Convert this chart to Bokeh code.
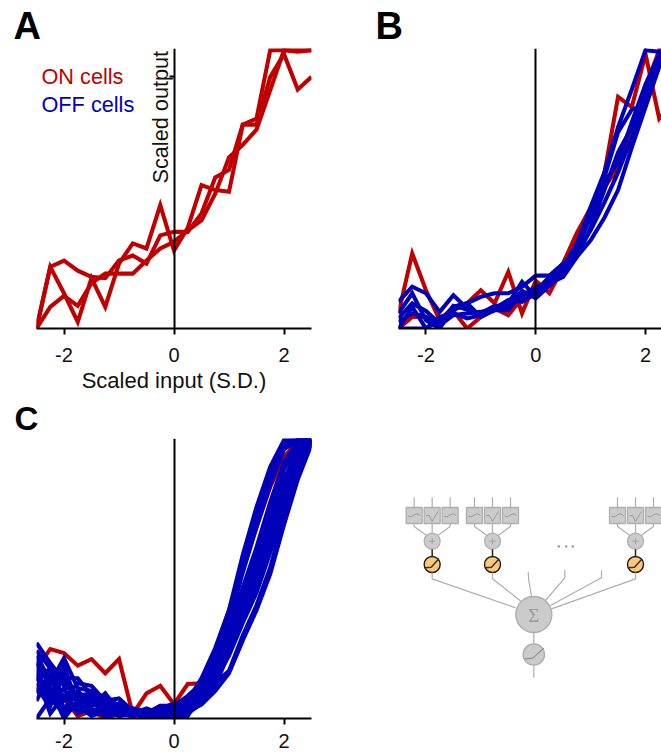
from bokeh.plotting import figure
from bokeh.layouts import row, column
from bokeh.models import FixedTicker, LinearAxis, Label, Title
from bokeh.embed import file_html
from bokeh.resources import INLINE
from bokeh.core.properties import value

# ---------- data ----------
xs = [-2.5,-2.25,-2,-1.75,-1.5,-1.25,-1,-.75,-.5,-.25,0,.25,.5,.75,1,1.25,1.5,1.75,2,2.25,2.5]
x_ticks = [-2, 0, 2]
x_tick_labels = {-2: "-2", 0: "0", 2: "2"}

a_on = [
 [0,.245,.14,.026,.20,.086,.258,.338,.318,.49,.31,.40,.57,.55,.543,.81,.834,1.106,1.106,1.10,1.106],
 [0,.245,.27,.23,.205,.20,.27,.29,.258,.37,.384,.384,.457,.60,.63,.81,.81,1.0,1.09,.95,1.0],
 [0,.086,.13,.09,.18,.218,.218,.218,.27,.318,.344,.39,.43,.536,.68,.73,.79,.947,1.106,1.106,1.106],
]

b_on = [
 [.06,.298,.152,.033,.086,.10,.152,.10,.225,.06,.19,.14,.245,.35,.457,.616,.92,.88,1.09,.834,.90],
 [0,.046,.046,.007,.07,0,.046,.08,.053,.12,.15,.19,.26,.38,.48,.56,.64,.80,.96,1.106,1.106],
]
b_off = [
 [.106,.166,.14,.066,.132,.08,.053,.073,.10,.185,.126,.18,.245,.338,.483,.62,.80,.95,1.106,1.10,1.106],
 [.06,.14,.033,0,.086,.10,.126,.14,.14,.166,.21,.21,.258,.31,.457,.60,.78,.87,.89,1.08,1.106],
 [.026,.06,.046,.013,.053,.06,.066,.08,.113,.126,.166,.18,.205,.285,.35,.44,.55,.72,.88,1.04,1.106],
 [0,0,0,.046,.06,.04,.053,.073,.113,.106,.14,.19,.218,.30,.39,.50,.62,.76,.90,1.05,1.106],
 [0,.086,0,.033,.073,.10,.046,.073,.073,.14,.15,.205,.23,.285,.40,.55,.70,.80,.93,1.07,1.106],
 [.04,.10,.07,.02,.09,.075,.06,.09,.09,.15,.12,.17,.22,.32,.44,.58,.66,.82,.97,1.09,1.106],
]

c_on = [
 [.20,.276,.26,.21,.236,.18,.236,.017,.10,.13,.057,.137,.14,.27,.43,.60,.76,.92,1.04,1.10,1.10],
 [.13,.06,.08,.01,.03,.0,.02,.01,.02,.03,.03,.06,.11,.19,.30,.44,.63,.76,.87,1.02,1.10],
]
c_off = [
 [.27,.20,.13,.10,.08,.06,.04,.02,.03,.04,.06,.07,.16,.28,.43,.65,.84,1.0,1.106,1.106,1.106],
 [.22,.14,.24,.12,.11,.07,.08,.03,.02,.05,.05,.09,.14,.26,.41,.62,.80,.97,1.09,1.106,1.106],
 [.18,.10,.16,.16,.09,.09,.05,.04,.03,.03,.04,.07,.13,.24,.38,.58,.76,.93,1.07,1.106,1.106],
 [.15,.20,.08,.14,.13,.07,.05,.03,.02,.02,.03,.05,.12,.22,.35,.52,.68,.86,1.02,1.10,1.106],
 [.12,.05,.18,.08,.05,.10,.03,.02,.04,.02,.03,.05,.11,.20,.33,.50,.64,.82,.99,1.09,1.106],
 [.23,.12,0,.07,.06,.04,.03,.04,.01,.03,.02,.04,.10,.19,.31,.47,.60,.78,.95,1.07,1.106],
 [.10,.16,.04,.10,.03,.05,.02,.01,.03,.01,.02,.03,.09,.17,.29,.43,.56,.74,.91,1.05,1.106],
 [.17,.02,.09,.03,.07,.02,.04,.02,.01,.02,.01,.03,.08,.16,.27,.40,.52,.70,.87,1.03,1.10],
 [0,.08,.02,.05,.01,.03,.01,.03,.01,.01,.01,.02,.07,.15,.25,.38,.50,.66,.83,1.0,1.09],
 [.20,.06,.12,.02,.04,.01,.02,.01,.02,.01,.02,.03,.055,.11,.18,.31,.43,.575,.77,.95,1.09],
 [.25,.15,.07,.11,.05,.08,.03,.03,.02,.04,.03,.04,.07,.14,.19,.33,.45,.60,.80,.97,1.10],
 [.14,.09,.21,.05,.09,.02,.06,.02,.03,.02,.02,.02,.06,.13,.26,.41,.54,.72,.89,1.04,1.10],
 [.07,.18,.03,.06,.02,.06,.01,.02,.0,.02,.0,.01,.10,.18,.30,.45,.58,.76,.93,1.06,1.106],
 [.30,.22,.15,.09,.10,.04,.05,.03,.02,.05,.04,.06,.15,.27,.42,.63,.82,.98,1.10,1.106,1.106],
]

legend_labels = ["ON cells", "OFF cells"]
x_title = "Scaled input (S.D.)"
y_title = "Scaled output"

# schematic (units in a 798 x 600 drawing space)
unit_cx = [110, 291, 720]
filter_dx = [-54, 0, 54]
filter_shape_u = [-18, -9, 0, 9, 18]
filter_side_v = [2, 4, -2, -5, 0]
filter_mid_v = [0, 0, 18, 2, -12]
side_inputs = [([398, 400, 408], [245, 270, 318]),
               ([508, 508, 450], [238, 262, 330]),
               ([618, 618, 465], [240, 262, 345])]
dots_x = [490, 512, 532]

RED, BLUE = "#c00000", "#0000b8"
FONT = "Liberation Sans"
PXU, PYU = 55.0, 755.0 / 3
GREY_F, GREY_L = "#cbcbcb", "#aeaeae"


def panel(w, h, left, right, top, bottom, xr, standoff, xtitle=None):
    p = figure(width=w, height=h, min_border_left=left, min_border_right=right,
               min_border_top=top, min_border_bottom=bottom,
               x_range=xr, y_range=(0, 1.1126), x_axis_location="below",
               y_axis_location=None, output_backend="svg", toolbar_location=None,
               background_fill_color="white", border_fill_color="white",
               outline_line_color=None)
    p.grid.visible = False
    ax = p.xaxis[0]
    ax.ticker = FixedTicker(ticks=x_ticks)
    ax.major_label_overrides = x_tick_labels
    ax.axis_line_width = 2
    ax.major_tick_line_width = 2
    ax.major_tick_out = 6
    ax.major_tick_in = 0
    ax.minor_tick_line_color = None
    ax.major_label_text_font = FONT
    ax.major_label_text_font_size = "20px"
    ax.major_label_text_color = "#111111"
    ax.major_label_standoff = standoff
    if xtitle:
        ax.axis_label = xtitle
        ax.axis_label_text_font = FONT
        ax.axis_label_text_font_size = "22px"
        ax.axis_label_text_font_style = "normal"
        ax.axis_label_text_color = "#111111"
        ax.axis_label_standoff = 3
    return p


def add_vline(p, ticks):
    yax = LinearAxis(fixed_location=0, ticker=FixedTicker(ticks=ticks))
    yax.axis_line_width = 2
    yax.major_tick_line_width = 2
    yax.major_tick_out = 5
    yax.major_tick_in = 0
    yax.minor_tick_line_color = None
    yax.major_label_text_font_size = "0px"
    yax.major_label_text_color = None
    p.add_layout(yax, "left")


def draw(p, series, color):
    for s in series:
        p.line(xs, s, line_color=color, line_width=4.1, line_join="miter")


def letter(p, t, offset, size="38px", standoff=4):
    p.add_layout(Title(text=t, align="left", offset=offset, standoff=standoff, text_font=FONT,
                       text_font_size=size, text_font_style="bold", text_color="black"),
                 "above")


# Panel A
a = panel(370, 396, 36, 59, 48, 68, (-2.5, 2.5), 13, x_title)
draw(a, a_on, RED)
add_vline(a, [1])
letter(a, "A", -23)
for t, c, py in [(legend_labels[0], RED, 76), (legend_labels[1], BLUE, 104)]:
    a.add_layout(Label(x=(41 - 173.5) / PXU, y=(328 - py) / PYU, text=t, text_font=FONT,
                       text_font_size="21.7px", text_color=c, text_align="left",
                       text_baseline="alphabetic"))
a.add_layout(Label(x=(160 - 173.5) / PXU, y=(328 - 183) / PYU, text=y_title, text_font=FONT,
                   text_font_size="21.7px", text_color="#111111", angle=90, angle_units="deg",
                   text_align="left", text_baseline="alphabetic"))

# Panel B
bxr = (-2.5, (661 - 535) / PXU)
b = panel(291, 396, 28, 0, 48, 68, bxr, 13)
draw(b, b_on, RED)
draw(b, b_off, BLUE)
add_vline(b, [])
letter(b, "B", -23)

# Panel C
c = panel(370, 359, 36, 59, 42, 37, (-2.5, 2.5), 9)
draw(c, c_on, RED)
draw(c, c_off, BLUE)
add_vline(c, [])
letter(c, "C", -22, "33px", 3)

# Schematic: data space equals 3x pixels, origin at page (395, 490);
# its frame is aligned with that of panel C (page y 438 to 718)
d = figure(width=291, height=359, x_range=(-75, 798), y_range=(684, -156),
           x_axis_location=None, y_axis_location=None, min_border_left=0, min_border_right=0,
           min_border_top=42, min_border_bottom=37,
           output_backend="svg", toolbar_location=None, outline_line_color=None,
           background_fill_color="white", border_fill_color="white")
d.grid.visible = False
LW = 1.2
for cx in unit_cx:
    for dx in filter_dx:
        bx = cx + dx
        d.line([bx, bx], [20, 50], line_color=GREY_L, line_width=LW)
        d.rect([bx], [75], 48, 48, fill_color=GREY_F, line_color=GREY_L, line_width=1.3)
        shape = filter_mid_v if dx == 0 else filter_side_v
        d.line([bx + u for u in filter_shape_u], [75 + v for v in shape],
               line_color="#9a9a9a", line_width=1)
    d.line([cx - 54, cx - 54, cx - 18], [99, 108, 134], line_color=GREY_L, line_width=LW)
    d.line([cx, cx], [99, 128], line_color=GREY_L, line_width=LW)
    d.line([cx + 54, cx + 54, cx + 18], [99, 108, 134], line_color=GREY_L, line_width=LW)
    d.circle([cx], [152], radius=24, fill_color=GREY_F, line_color=GREY_L, line_width=1.2)
    d.line([cx - 9, cx + 9], [152, 152], line_color="#a0a0a0", line_width=1)
    d.line([cx, cx], [143, 161], line_color="#a0a0a0", line_width=1)
    d.line([cx, cx], [176, 198], line_color="#222222", line_width=1.5)
    d.circle([cx], [222], radius=24, fill_color="#fcc877", line_color="#1a1a1a", line_width=1.4)
    d.line([cx - 22, cx - 3, cx + 20], [232, 230, 205], line_color="#333333", line_width=1.5)

arrows = [([110, 110, 360], [246, 265, 352]),
          ([291, 291, 380], [246, 265, 335]),
          ([720, 720, 468], [246, 265, 355])] + side_inputs
for ax_, ay_ in arrows:
    d.line(ax_, ay_, line_color=GREY_L, line_width=LW)
d.circle([415], [372], radius=54, fill_color=GREY_F, line_color=GREY_L, line_width=1.4)
d.text([415], [374], text=["Σ"], text_font=value("Liberation Serif"), text_font_size="19px",
       text_color="#9a9a9a", text_align="center", text_baseline="middle")
d.line([415, 415], [426, 460], line_color=GREY_L, line_width=LW)
d.circle([415], [492], radius=32, fill_color=GREY_F, line_color=GREY_L, line_width=1.4)
d.line([388, 412, 445], [505, 503, 473], line_color="#8f8f8f", line_width=1.2)
d.line([415, 415], [524, 562], line_color=GREY_L, line_width=LW)
d.scatter(dots_x, [168, 168, 168], size=2.6, marker="circle", fill_color="#9c9c9c", line_color=None)

layout = column(row(a, b, spacing=0), row(c, d, spacing=0), spacing=0)
open("out.html", "w").write(file_html(layout, INLINE))
